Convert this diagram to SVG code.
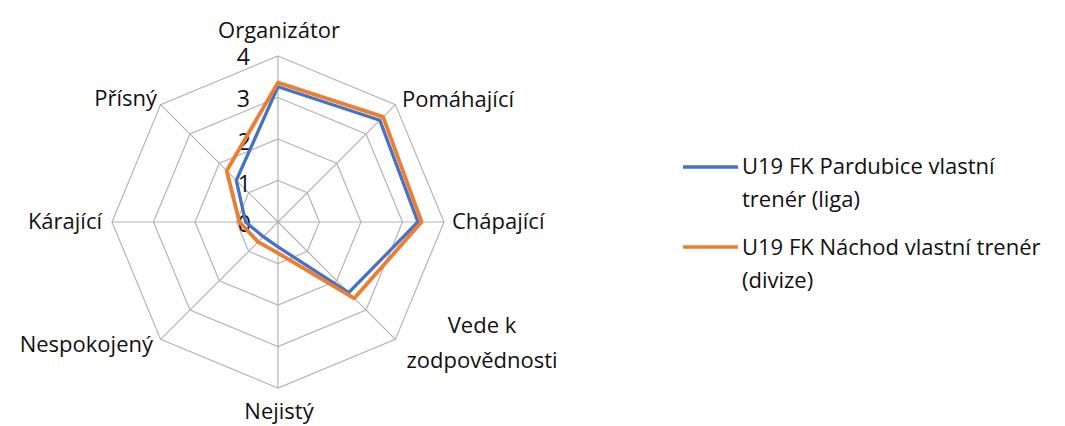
<svg xmlns="http://www.w3.org/2000/svg" width="1065" height="426" viewBox="0 0 1065 426">
<style>
text{font-family:"Open Sans","Noto Sans","Liberation Sans",sans-serif;font-size:22px;font-weight:500;fill:#111}
.tick{font-size:23px}
.grid{fill:none;stroke:#b4b4b4;stroke-width:1.2}
.blue{fill:none;stroke:#4472C4;stroke-width:3.3;stroke-linejoin:round}
.orange{fill:none;stroke:#ED7D31;stroke-width:3.8;stroke-linejoin:round}
.mid{text-anchor:middle}.end{text-anchor:end}
</style>
<rect width="1065" height="426" fill="#fff"/>
<g id="grid">
<polygon class="grid" points="278,180.5 307.35,192.65 319.5,222 307.35,251.35 278,263.5 248.65,251.35 236.5,222 248.65,192.65"/>
<polygon class="grid" points="278,139 336.69,163.31 361,222 336.69,280.69 278,305 219.31,280.69 195,222 219.31,163.31"/>
<polygon class="grid" points="278,97.5 366.03,133.97 402.5,222 366.03,310.03 278,346.5 189.97,310.03 153.5,222 189.97,133.97"/>
<polygon class="grid" points="278,56 395.38,104.62 444,222 395.38,339.38 278,388 160.62,339.38 112,222 160.62,104.62"/>
<path class="grid" d="M278,222L278,56M278,222L395.38,104.62M278,222L444,222M278,222L395.38,339.38M278,222L278,388M278,222L160.62,339.38M278,222L112,222M278,222L160.62,104.62"/>
</g>
<g id="ticks">
<text class="end tick" x="250" y="65">4</text>
<text class="end tick" x="250" y="107">3</text>
<text class="end tick" x="251" y="150">2</text>
<text class="end tick" x="251" y="192">1</text>
<text class="end tick" x="251" y="232">0</text>
</g>
<g id="connectors">
<polygon id="series-blue" class="blue" points="278,86.7 379.8,120.2 417.9,222 348.7,292.7 278,246.9 263.3,236.7 245.6,222 236.3,180.3"/>
<polygon id="series-orange" class="orange" points="278,82.6 383.1,116.9 421.6,222 354.3,298.3 278,253.1 258,241.9 239.4,222 226.7,170.7"/>
</g>
<g id="axis-organizator"><text class="mid" x="279" y="38">Organizátor</text></g>
<g id="axis-pomahajici"><text x="402" y="107">Pomáhající</text></g>
<g id="axis-chapajici"><text x="452" y="229">Chápající</text></g>
<g id="axis-vede"><text class="mid" x="482" y="333">Vede k</text><text class="mid" x="482" y="368">zodpovědnosti</text></g>
<g id="axis-nejisty"><text class="mid" x="279" y="419">Nejistý</text></g>
<g id="axis-nespokojeny"><text class="end" x="153" y="352">Nespokojený</text></g>
<g id="axis-karajici"><text class="end" x="102" y="229">Kárající</text></g>
<g id="axis-prisny"><text class="end" x="157" y="106">Přísný</text></g>
<g id="legend">
<line x1="683" y1="167" x2="738" y2="167" stroke="#4472C4" stroke-width="3.3"/>
<text x="742" y="174">U19 FK Pardubice vlastní</text>
<text x="742" y="207">trenér (liga)</text>
<line x1="683" y1="247" x2="738" y2="247" stroke="#ED7D31" stroke-width="3.3"/>
<text x="742" y="255">U19 FK Náchod vlastní trenér</text>
<text x="742" y="288">(divize)</text>
</g>
</svg>
